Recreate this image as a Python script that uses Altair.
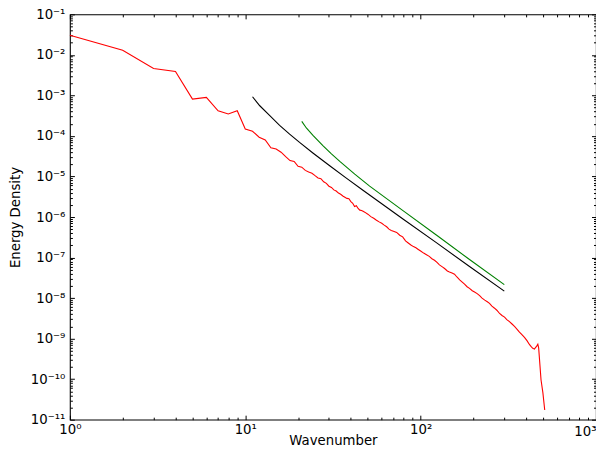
import altair as alt
import pandas as pd

# ---- data (log10 of energy density) ----
red_k = [1, 2, 3, 4, 5, 6, 7, 8, 9, 10, 11, 12, 13, 14, 15, 16, 17, 18, 19, 20,
         21, 22, 23, 24, 25, 26, 27, 28, 29, 30, 31, 32, 33, 34, 35, 36, 37, 38, 39, 40,
         41, 42, 43, 44, 45, 46, 47, 48, 50, 52, 54, 56, 58, 60, 62, 64, 66, 68, 70, 73,
         76, 79, 82, 85, 88, 91, 94, 97, 100, 104, 108, 112, 116, 120, 124, 128, 133, 137, 142, 146,
         151, 156, 161, 167, 172, 178, 184, 190, 197, 203, 210, 217, 224, 232, 240, 247, 255, 264, 272, 282,
         291, 301, 310, 321, 332, 343, 355, 366, 378, 391, 404, 418, 427, 436, 446, 452, 460, 466, 471, 486,
         498, 510]
red_log = [-1.516, -1.885, -2.337, -2.41, -3.09, -3.05, -3.378, -3.459, -3.378, -3.83,
           -3.885, -4.03, -4.10, -4.29, -4.32, -4.40, -4.51, -4.607, -4.63, -4.75,
           -4.77, -4.85, -4.89, -4.92, -4.98, -5.035, -5.055, -5.13, -5.17, -5.24,
           -5.27, -5.33, -5.36, -5.41, -5.44, -5.48, -5.51, -5.54, -5.55, -5.62,
           -5.66, -5.74, -5.72, -5.79, -5.83, -5.84, -5.86, -5.88, -5.93, -5.99,
           -6.03, -6.08, -6.12, -6.155, -6.20, -6.24, -6.30, -6.33, -6.35, -6.38,
           -6.45, -6.49, -6.59, -6.64, -6.69, -6.73, -6.76, -6.80, -6.84, -6.89,
           -6.93, -6.97, -7.03, -7.066, -7.12, -7.18, -7.23, -7.27, -7.33, -7.354,
           -7.38, -7.41, -7.48, -7.55, -7.60, -7.656, -7.72, -7.76, -7.82, -7.85,
           -7.89, -7.94, -8.00, -8.05, -8.09, -8.13, -8.20, -8.25, -8.30, -8.38,
           -8.43, -8.47, -8.53, -8.58, -8.64, -8.70, -8.77, -8.84, -8.90, -8.97,
           -9.05, -9.15, -9.20, -9.24, -9.26, -9.22, -9.18, -9.14, -9.23, -10.02,
           -10.34, -10.76]

black_k = [11, 12.1, 13.8, 15.7, 17.9, 20.4, 24.3, 30.3, 37.7, 46.9, 58.4, 79.3, 122.9, 190, 300]
black_log = [-3.033, -3.255, -3.501, -3.737, -3.955, -4.160, -4.420, -4.735, -5.040, -5.340,
             -5.637, -6.048, -6.633, -7.221, -7.828]

green_k = [21, 22.3, 24.4, 27.8, 31.0, 34.6, 42.1, 51.2, 79.3, 122.9, 190, 300]
green_log = [-3.641, -3.803, -3.992, -4.243, -4.442, -4.629, -4.941, -5.237, -5.841, -6.444,
             -7.049, -7.668]

x_major = [1, 10, 100, 1000]
x_minor = [m * 10 ** e for e in range(0, 3) for m in range(2, 10)]
y_major = [10.0 ** e for e in range(-11, 0)]
y_minor = [m * 10.0 ** e for e in range(-11, -1) for m in range(2, 10)]

red = pd.DataFrame({"k": red_k, "E": [10 ** v for v in red_log]})
black = pd.DataFrame({"k": black_k, "E": [10 ** v for v in black_log]})
green = pd.DataFrame({"k": green_k, "E": [10 ** v for v in green_log]})

FONT = "DejaVu Sans"
FS = 13.3
MAJ = 4.5
MIN = 2.5

e = "round(log(datum.value)/LN10)"
ae = f"abs({e})"
sup = "['\u2070','\u00b9','\u00b2','\u00b3','\u2074','\u2075','\u2076','\u2077','\u2078','\u2079']"
label_expr = f"'10' + ({e} < 0 ? '\u207b' : '') + ({ae} >= 10 ? '\u00b9' : '') + {sup}[{ae} % 10]"
# last x label is drawn by a separate, right-aligned axis so it stays inside the page
x_label_expr = f"datum.value >= 1000 ? '' : {label_expr}"
x_last_expr = "datum.value >= 1000 ? '10\u00b3' : ''"

xs = alt.Scale(type="log", domain=[1, 1000], nice=False)
ys = alt.Scale(type="log", domain=[1e-11, 1e-1], nice=False)


def tick_axis(orient, values, size):
    return alt.Axis(orient=orient, values=values, tickSize=size, offset=-size,
                    labels=False, domain=False, grid=False, ticks=True,
                    tickColor="black", tickWidth=1, title=None)


l_red = alt.Chart(red).mark_line(color="#ff0000", strokeWidth=1.1).encode(
    x=alt.X("k:Q", scale=xs, title="Wavenumber",
            axis=alt.Axis(orient="bottom", values=x_major, tickSize=MAJ, offset=-MAJ,
                          domain=False, grid=False, labelExpr=x_label_expr,
                          labelFont=FONT, labelFontSize=FS, labelColor="black",
                          labelPadding=3, labelFlush=False, labelOverlap=False,
                          tickColor="black", titleFont=FONT, titleFontSize=FS,
                          titleFontWeight="normal", titleColor="black",
                          titleBaseline="alphabetic", titleY=29)),
    y=alt.Y("E:Q", scale=ys, title="Energy Density",
            axis=alt.Axis(orient="left", values=y_major, tickSize=MAJ, offset=-MAJ,
                          domain=False, grid=False, labelExpr=label_expr,
                          labelFont=FONT, labelFontSize=FS, labelColor="black",
                          labelPadding=5, labelFlush=False, labelOverlap=False,
                          tickColor="black", titleFont=FONT, titleFontSize=FS,
                          titleFontWeight="normal", titleColor="black", titlePadding=8)),
    order="k:Q",
)

l_black = alt.Chart(black).mark_line(color="black", strokeWidth=1.1).encode(
    x=alt.X("k:Q", scale=xs,
            axis=alt.Axis(orient="bottom", values=x_minor + [1000], tickSize=MIN, offset=-MIN,
                          domain=False, grid=False, labelExpr=x_last_expr,
                          labelFont=FONT, labelFontSize=FS, labelColor="black",
                          labelPadding=3 + MAJ - MIN, labelFlush=False, labelOverlap=False,
                          labelAlign="right", tickColor="black", tickWidth=1, title=None)),
    y=alt.Y("E:Q", scale=ys, axis=tick_axis("left", y_minor, MIN)),
    order="k:Q",
)

l_green = alt.Chart(green).mark_line(color="#008000", strokeWidth=1.1).encode(
    x=alt.X("k:Q", scale=xs, axis=tick_axis("top", x_major, MAJ)),
    y=alt.Y("E:Q", scale=ys, axis=tick_axis("right", y_major, MAJ)),
    order="k:Q",
)

l_dummy = alt.Chart(green).mark_line(color="#008000", strokeOpacity=0).encode(
    x=alt.X("k:Q", scale=xs, axis=tick_axis("top", x_minor, MIN)),
    y=alt.Y("E:Q", scale=ys, axis=tick_axis("right", y_minor, MIN)),
    order="k:Q",
)

chart = alt.layer(l_red, l_black, l_green, l_dummy).resolve_axis(
    x="independent", y="independent"
).properties(
    width=527, height=406,
    autosize=alt.AutoSizeParams(type="none"),
    padding={"left": 62, "top": 6, "right": 0, "bottom": 28},
    background="white",
).configure_view(stroke="black", strokeWidth=1.1)

chart.save("out.html", embed_options={"renderer": "svg", "actions": False})
